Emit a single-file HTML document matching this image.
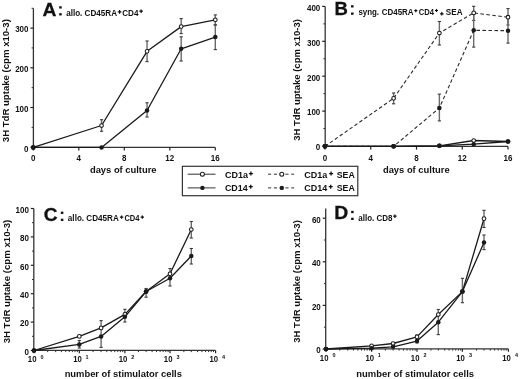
<!DOCTYPE html>
<html><head><meta charset="utf-8"><style>
html,body{margin:0;padding:0;background:#fff;}
body{width:520px;height:379px;overflow:hidden;}
svg{display:block;filter:blur(0.3px);}
text{fill:#111;}
</style></head><body>
<svg width="520" height="379" viewBox="0 0 520 379" font-family='"Liberation Sans", sans-serif'>
<rect width="520" height="379" fill="#fff"/>
<line x1="32.80" y1="147.40" x2="215.30" y2="147.40" stroke="#333" stroke-width="1.3"/>
<line x1="33.30" y1="147.40" x2="33.30" y2="150.60" stroke="#222" stroke-width="1.2"/>
<text x="33.30" y="161.30" font-size="8.6" text-anchor="middle" font-weight="bold" textLength="4.45" lengthAdjust="spacingAndGlyphs">0</text>
<line x1="78.80" y1="147.40" x2="78.80" y2="150.60" stroke="#222" stroke-width="1.2"/>
<text x="78.80" y="161.30" font-size="8.6" text-anchor="middle" font-weight="bold" textLength="4.45" lengthAdjust="spacingAndGlyphs">4</text>
<line x1="124.30" y1="147.40" x2="124.30" y2="150.60" stroke="#222" stroke-width="1.2"/>
<text x="124.30" y="161.30" font-size="8.6" text-anchor="middle" font-weight="bold" textLength="4.45" lengthAdjust="spacingAndGlyphs">8</text>
<line x1="169.80" y1="147.40" x2="169.80" y2="150.60" stroke="#222" stroke-width="1.2"/>
<text x="169.80" y="161.30" font-size="8.6" text-anchor="middle" font-weight="bold" textLength="8.90" lengthAdjust="spacingAndGlyphs">12</text>
<line x1="215.30" y1="147.40" x2="215.30" y2="150.60" stroke="#222" stroke-width="1.2"/>
<text x="215.30" y="161.30" font-size="8.6" text-anchor="middle" font-weight="bold" textLength="8.90" lengthAdjust="spacingAndGlyphs">16</text>
<line x1="33.40" y1="148.00" x2="33.40" y2="8.25" stroke="#333" stroke-width="1.3"/>
<line x1="30.40" y1="147.20" x2="33.40" y2="147.20" stroke="#222" stroke-width="1.2"/>
<line x1="30.40" y1="107.50" x2="33.40" y2="107.50" stroke="#222" stroke-width="1.2"/>
<line x1="30.40" y1="67.80" x2="33.40" y2="67.80" stroke="#222" stroke-width="1.2"/>
<line x1="30.40" y1="28.10" x2="33.40" y2="28.10" stroke="#222" stroke-width="1.2"/>
<line x1="31.60" y1="127.35" x2="33.40" y2="127.35" stroke="#333" stroke-width="1.0"/>
<line x1="31.60" y1="87.65" x2="33.40" y2="87.65" stroke="#333" stroke-width="1.0"/>
<line x1="31.60" y1="47.95" x2="33.40" y2="47.95" stroke="#333" stroke-width="1.0"/>
<line x1="31.60" y1="8.25" x2="33.40" y2="8.25" stroke="#333" stroke-width="1.0"/>
<text x="28.50" y="151.50" font-size="8.6" text-anchor="end" font-weight="bold" textLength="4.45" lengthAdjust="spacingAndGlyphs">0</text>
<text x="28.50" y="111.80" font-size="8.6" text-anchor="end" font-weight="bold" textLength="13.35" lengthAdjust="spacingAndGlyphs">100</text>
<text x="28.50" y="72.10" font-size="8.6" text-anchor="end" font-weight="bold" textLength="13.35" lengthAdjust="spacingAndGlyphs">200</text>
<text x="28.50" y="32.40" font-size="8.6" text-anchor="end" font-weight="bold" textLength="13.35" lengthAdjust="spacingAndGlyphs">300</text>
<text x="-142.19" y="0" font-size="9.4" font-weight="bold" textLength="123.02" lengthAdjust="spacingAndGlyphs" transform="translate(8.60,0) rotate(-90)">3H TdR uptake (cpm x10-3)</text>
<text x="89.92" y="173.40" font-size="9.4" font-weight="bold" textLength="66.68" lengthAdjust="spacingAndGlyphs">days of culture</text>
<text x="42.62" y="15.60" font-size="19.2" font-weight="bold" textLength="13.90" lengthAdjust="spacingAndGlyphs" stroke="#111" stroke-width="0.3">A</text>
<rect x="59.20" y="6.25" width="2.5" height="2.3" fill="#111"/>
<rect x="59.20" y="13.15" width="2.5" height="2.3" fill="#111"/>
<text x="66.16" y="16.30" font-size="8.8" font-weight="bold" textLength="50.88" lengthAdjust="spacingAndGlyphs">allo. CD45RA</text>
<path d="M117.80,11.90H121.40M119.60,10.10V13.70" stroke="#111" stroke-width="1.25" fill="none"/>
<text x="122.28" y="16.30" font-size="8.8" font-weight="bold" textLength="16.21" lengthAdjust="spacingAndGlyphs">CD4</text>
<path d="M139.30,11.20H142.90M141.10,9.40V13.00" stroke="#111" stroke-width="1.25" fill="none"/>
<line x1="101.55" y1="119.70" x2="101.55" y2="131.30" stroke="#6a6a6a" stroke-width="1.4"/>
<line x1="99.95" y1="119.70" x2="103.15" y2="119.70" stroke="#3a3a3a" stroke-width="1.1"/>
<line x1="99.95" y1="131.30" x2="103.15" y2="131.30" stroke="#3a3a3a" stroke-width="1.1"/>
<line x1="147.05" y1="41.00" x2="147.05" y2="61.60" stroke="#6a6a6a" stroke-width="1.4"/>
<line x1="145.45" y1="41.00" x2="148.65" y2="41.00" stroke="#3a3a3a" stroke-width="1.1"/>
<line x1="145.45" y1="61.60" x2="148.65" y2="61.60" stroke="#3a3a3a" stroke-width="1.1"/>
<line x1="181.18" y1="18.60" x2="181.18" y2="33.60" stroke="#6a6a6a" stroke-width="1.4"/>
<line x1="179.58" y1="18.60" x2="182.78" y2="18.60" stroke="#3a3a3a" stroke-width="1.1"/>
<line x1="179.58" y1="33.60" x2="182.78" y2="33.60" stroke="#3a3a3a" stroke-width="1.1"/>
<line x1="215.30" y1="14.90" x2="215.30" y2="24.80" stroke="#6a6a6a" stroke-width="1.4"/>
<line x1="213.70" y1="14.90" x2="216.90" y2="14.90" stroke="#3a3a3a" stroke-width="1.1"/>
<line x1="213.70" y1="24.80" x2="216.90" y2="24.80" stroke="#3a3a3a" stroke-width="1.1"/>
<line x1="147.05" y1="102.80" x2="147.05" y2="117.00" stroke="#6a6a6a" stroke-width="1.4"/>
<line x1="145.45" y1="102.80" x2="148.65" y2="102.80" stroke="#3a3a3a" stroke-width="1.1"/>
<line x1="145.45" y1="117.00" x2="148.65" y2="117.00" stroke="#3a3a3a" stroke-width="1.1"/>
<line x1="181.18" y1="36.80" x2="181.18" y2="61.00" stroke="#6a6a6a" stroke-width="1.4"/>
<line x1="179.58" y1="36.80" x2="182.78" y2="36.80" stroke="#3a3a3a" stroke-width="1.1"/>
<line x1="179.58" y1="61.00" x2="182.78" y2="61.00" stroke="#3a3a3a" stroke-width="1.1"/>
<line x1="215.30" y1="25.00" x2="215.30" y2="49.60" stroke="#6a6a6a" stroke-width="1.4"/>
<line x1="213.70" y1="25.00" x2="216.90" y2="25.00" stroke="#3a3a3a" stroke-width="1.1"/>
<line x1="213.70" y1="49.60" x2="216.90" y2="49.60" stroke="#3a3a3a" stroke-width="1.1"/>
<polyline points="33.30,147.40 101.55,125.50 147.05,51.30 181.18,26.60 215.30,19.80" fill="none" stroke="#1a1a1a" stroke-width="1.3" stroke-linejoin="round"/>
<polyline points="33.30,147.40 101.55,147.40 147.05,110.50 181.18,48.80 215.30,37.10" fill="none" stroke="#1a1a1a" stroke-width="1.3" stroke-linejoin="round"/>
<circle cx="33.30" cy="147.40" r="1.85" fill="#fff" stroke="#1a1a1a" stroke-width="1.05"/>
<circle cx="101.55" cy="125.50" r="1.85" fill="#fff" stroke="#1a1a1a" stroke-width="1.05"/>
<circle cx="147.05" cy="51.30" r="1.85" fill="#fff" stroke="#1a1a1a" stroke-width="1.05"/>
<circle cx="181.18" cy="26.60" r="1.85" fill="#fff" stroke="#1a1a1a" stroke-width="1.05"/>
<circle cx="215.30" cy="19.80" r="1.85" fill="#fff" stroke="#1a1a1a" stroke-width="1.05"/>
<circle cx="33.30" cy="147.40" r="2.25" fill="#1a1a1a"/>
<circle cx="101.55" cy="147.40" r="2.25" fill="#1a1a1a"/>
<circle cx="147.05" cy="110.50" r="2.25" fill="#1a1a1a"/>
<circle cx="181.18" cy="48.80" r="2.25" fill="#1a1a1a"/>
<circle cx="215.30" cy="37.10" r="2.25" fill="#1a1a1a"/>
<line x1="324.60" y1="146.40" x2="508.00" y2="146.40" stroke="#333" stroke-width="1.3"/>
<line x1="325.00" y1="146.40" x2="325.00" y2="149.60" stroke="#222" stroke-width="1.2"/>
<text x="325.00" y="160.90" font-size="8.6" text-anchor="middle" font-weight="bold" textLength="4.45" lengthAdjust="spacingAndGlyphs">0</text>
<line x1="370.75" y1="146.40" x2="370.75" y2="149.60" stroke="#222" stroke-width="1.2"/>
<text x="370.75" y="160.90" font-size="8.6" text-anchor="middle" font-weight="bold" textLength="4.45" lengthAdjust="spacingAndGlyphs">4</text>
<line x1="416.50" y1="146.40" x2="416.50" y2="149.60" stroke="#222" stroke-width="1.2"/>
<text x="416.50" y="160.90" font-size="8.6" text-anchor="middle" font-weight="bold" textLength="4.45" lengthAdjust="spacingAndGlyphs">8</text>
<line x1="462.25" y1="146.40" x2="462.25" y2="149.60" stroke="#222" stroke-width="1.2"/>
<text x="462.25" y="160.90" font-size="8.6" text-anchor="middle" font-weight="bold" textLength="8.90" lengthAdjust="spacingAndGlyphs">12</text>
<line x1="508.00" y1="146.40" x2="508.00" y2="149.60" stroke="#222" stroke-width="1.2"/>
<text x="508.00" y="160.90" font-size="8.6" text-anchor="middle" font-weight="bold" textLength="8.90" lengthAdjust="spacingAndGlyphs">16</text>
<line x1="325.20" y1="147.00" x2="325.20" y2="6.40" stroke="#333" stroke-width="1.3"/>
<line x1="322.20" y1="146.00" x2="325.20" y2="146.00" stroke="#222" stroke-width="1.2"/>
<line x1="322.20" y1="111.10" x2="325.20" y2="111.10" stroke="#222" stroke-width="1.2"/>
<line x1="322.20" y1="76.20" x2="325.20" y2="76.20" stroke="#222" stroke-width="1.2"/>
<line x1="322.20" y1="41.30" x2="325.20" y2="41.30" stroke="#222" stroke-width="1.2"/>
<line x1="322.20" y1="6.40" x2="325.20" y2="6.40" stroke="#222" stroke-width="1.2"/>
<line x1="323.40" y1="128.55" x2="325.20" y2="128.55" stroke="#333" stroke-width="1.0"/>
<line x1="323.40" y1="93.65" x2="325.20" y2="93.65" stroke="#333" stroke-width="1.0"/>
<line x1="323.40" y1="58.75" x2="325.20" y2="58.75" stroke="#333" stroke-width="1.0"/>
<line x1="323.40" y1="23.85" x2="325.20" y2="23.85" stroke="#333" stroke-width="1.0"/>
<text x="320.30" y="150.30" font-size="8.6" text-anchor="end" font-weight="bold" textLength="4.45" lengthAdjust="spacingAndGlyphs">0</text>
<text x="320.30" y="115.40" font-size="8.6" text-anchor="end" font-weight="bold" textLength="13.35" lengthAdjust="spacingAndGlyphs">100</text>
<text x="320.30" y="80.50" font-size="8.6" text-anchor="end" font-weight="bold" textLength="13.35" lengthAdjust="spacingAndGlyphs">200</text>
<text x="320.30" y="45.60" font-size="8.6" text-anchor="end" font-weight="bold" textLength="13.35" lengthAdjust="spacingAndGlyphs">300</text>
<text x="320.30" y="10.70" font-size="8.6" text-anchor="end" font-weight="bold" textLength="13.35" lengthAdjust="spacingAndGlyphs">400</text>
<text x="-140.89" y="0" font-size="9.4" font-weight="bold" textLength="121.82" lengthAdjust="spacingAndGlyphs" transform="translate(299.70,0) rotate(-90)">3H TdR uptake (cpm x10-3)</text>
<text x="382.93" y="173.00" font-size="9.4" font-weight="bold" textLength="66.68" lengthAdjust="spacingAndGlyphs">days of culture</text>
<text x="334.40" y="15.10" font-size="19.2" font-weight="bold" textLength="13.38" lengthAdjust="spacingAndGlyphs" stroke="#111" stroke-width="0.3">B</text>
<rect x="351.05" y="5.20" width="2.5" height="2.3" fill="#111"/>
<rect x="351.05" y="12.50" width="2.5" height="2.3" fill="#111"/>
<text x="358.38" y="15.20" font-size="8.8" font-weight="bold" textLength="20.68" lengthAdjust="spacingAndGlyphs">syng.</text>
<text x="381.78" y="15.20" font-size="8.8" font-weight="bold" textLength="31.76" lengthAdjust="spacingAndGlyphs">CD45RA</text>
<path d="M414.30,10.70H417.30M415.80,9.20V12.20" stroke="#111" stroke-width="1.2" fill="none"/>
<text x="418.80" y="15.20" font-size="8.8" font-weight="bold" textLength="15.18" lengthAdjust="spacingAndGlyphs">CD4</text>
<path d="M435.00,10.50H438.00M436.50,9.00V12.00" stroke="#111" stroke-width="1.2" fill="none"/>
<path d="M440.00,13.80H443.60M441.80,12.00V15.60" stroke="#111" stroke-width="1.2" fill="none"/>
<text x="445.86" y="15.20" font-size="8.8" font-weight="bold" textLength="16.64" lengthAdjust="spacingAndGlyphs">SEA</text>
<line x1="393.62" y1="93.00" x2="393.62" y2="103.80" stroke="#6a6a6a" stroke-width="1.4"/>
<line x1="392.02" y1="93.00" x2="395.23" y2="93.00" stroke="#3a3a3a" stroke-width="1.1"/>
<line x1="392.02" y1="103.80" x2="395.23" y2="103.80" stroke="#3a3a3a" stroke-width="1.1"/>
<line x1="439.38" y1="21.50" x2="439.38" y2="45.00" stroke="#6a6a6a" stroke-width="1.4"/>
<line x1="437.77" y1="21.50" x2="440.98" y2="21.50" stroke="#3a3a3a" stroke-width="1.1"/>
<line x1="437.77" y1="45.00" x2="440.98" y2="45.00" stroke="#3a3a3a" stroke-width="1.1"/>
<line x1="473.69" y1="6.30" x2="473.69" y2="20.40" stroke="#6a6a6a" stroke-width="1.4"/>
<line x1="472.09" y1="6.30" x2="475.29" y2="6.30" stroke="#3a3a3a" stroke-width="1.1"/>
<line x1="472.09" y1="20.40" x2="475.29" y2="20.40" stroke="#3a3a3a" stroke-width="1.1"/>
<line x1="508.00" y1="8.60" x2="508.00" y2="25.00" stroke="#6a6a6a" stroke-width="1.4"/>
<line x1="506.40" y1="8.60" x2="509.60" y2="8.60" stroke="#3a3a3a" stroke-width="1.1"/>
<line x1="506.40" y1="25.00" x2="509.60" y2="25.00" stroke="#3a3a3a" stroke-width="1.1"/>
<line x1="439.38" y1="94.10" x2="439.38" y2="120.90" stroke="#6a6a6a" stroke-width="1.4"/>
<line x1="437.77" y1="94.10" x2="440.98" y2="94.10" stroke="#3a3a3a" stroke-width="1.1"/>
<line x1="437.77" y1="120.90" x2="440.98" y2="120.90" stroke="#3a3a3a" stroke-width="1.1"/>
<line x1="473.69" y1="14.00" x2="473.69" y2="47.10" stroke="#6a6a6a" stroke-width="1.4"/>
<line x1="472.09" y1="14.00" x2="475.29" y2="14.00" stroke="#3a3a3a" stroke-width="1.1"/>
<line x1="472.09" y1="47.10" x2="475.29" y2="47.10" stroke="#3a3a3a" stroke-width="1.1"/>
<line x1="508.00" y1="18.00" x2="508.00" y2="43.10" stroke="#6a6a6a" stroke-width="1.4"/>
<line x1="506.40" y1="18.00" x2="509.60" y2="18.00" stroke="#3a3a3a" stroke-width="1.1"/>
<line x1="506.40" y1="43.10" x2="509.60" y2="43.10" stroke="#3a3a3a" stroke-width="1.1"/>
<polyline points="325.00,146.35 393.62,98.30 439.38,33.00 473.69,12.90 508.00,17.20" fill="none" stroke="#2a2a2a" stroke-width="1.1" stroke-linejoin="round" stroke-dasharray="3.6,2.4"/>
<polyline points="325.00,146.35 393.62,146.35 439.38,108.00 473.69,30.30 508.00,30.70" fill="none" stroke="#2a2a2a" stroke-width="1.1" stroke-linejoin="round" stroke-dasharray="3.6,2.4"/>
<polyline points="325.00,146.35 393.62,146.35 439.38,145.80 473.69,140.50 508.00,141.50" fill="none" stroke="#1a1a1a" stroke-width="1.3" stroke-linejoin="round"/>
<polyline points="325.00,146.35 393.62,146.35 439.38,145.80 473.69,144.20 508.00,141.50" fill="none" stroke="#1a1a1a" stroke-width="1.3" stroke-linejoin="round"/>
<circle cx="325.00" cy="146.35" r="1.85" fill="#fff" stroke="#1a1a1a" stroke-width="1.05"/>
<circle cx="393.62" cy="98.30" r="1.85" fill="#fff" stroke="#1a1a1a" stroke-width="1.05"/>
<circle cx="439.38" cy="33.00" r="1.85" fill="#fff" stroke="#1a1a1a" stroke-width="1.05"/>
<circle cx="473.69" cy="12.90" r="1.85" fill="#fff" stroke="#1a1a1a" stroke-width="1.05"/>
<circle cx="508.00" cy="17.20" r="1.85" fill="#fff" stroke="#1a1a1a" stroke-width="1.05"/>
<circle cx="325.00" cy="146.35" r="2.25" fill="#1a1a1a"/>
<circle cx="393.62" cy="146.35" r="2.25" fill="#1a1a1a"/>
<circle cx="439.38" cy="108.00" r="2.25" fill="#1a1a1a"/>
<circle cx="473.69" cy="30.30" r="2.25" fill="#1a1a1a"/>
<circle cx="508.00" cy="30.70" r="2.25" fill="#1a1a1a"/>
<circle cx="325.00" cy="146.35" r="1.85" fill="#fff" stroke="#1a1a1a" stroke-width="1.05"/>
<circle cx="393.62" cy="146.35" r="1.85" fill="#fff" stroke="#1a1a1a" stroke-width="1.05"/>
<circle cx="439.38" cy="145.80" r="1.85" fill="#fff" stroke="#1a1a1a" stroke-width="1.05"/>
<circle cx="473.69" cy="140.50" r="1.85" fill="#fff" stroke="#1a1a1a" stroke-width="1.05"/>
<circle cx="508.00" cy="141.50" r="1.85" fill="#fff" stroke="#1a1a1a" stroke-width="1.05"/>
<circle cx="325.00" cy="146.35" r="2.25" fill="#1a1a1a"/>
<circle cx="393.62" cy="146.35" r="2.25" fill="#1a1a1a"/>
<circle cx="439.38" cy="145.80" r="2.25" fill="#1a1a1a"/>
<circle cx="473.69" cy="144.20" r="2.25" fill="#1a1a1a"/>
<circle cx="508.00" cy="141.50" r="2.25" fill="#1a1a1a"/>
<rect x="182.4" y="166.3" width="175.4" height="29.4" fill="#fff" stroke="#333" stroke-width="1.2"/>
<line x1="187.70" y1="174.20" x2="215.50" y2="174.20" stroke="#333" stroke-width="1.0"/>
<circle cx="202.40" cy="174.20" r="2.0" fill="#fff" stroke="#1a1a1a" stroke-width="1.05"/>
<line x1="187.70" y1="187.90" x2="215.50" y2="187.90" stroke="#333" stroke-width="1.0"/>
<circle cx="202.40" cy="187.90" r="2.2" fill="#1a1a1a"/>
<line x1="268.00" y1="174.20" x2="294.20" y2="174.20" stroke="#333" stroke-width="1.0" stroke-dasharray="3.2,2.6"/>
<circle cx="281.80" cy="174.20" r="2.0" fill="#fff" stroke="#1a1a1a" stroke-width="1.05"/>
<line x1="268.00" y1="187.90" x2="294.20" y2="187.90" stroke="#333" stroke-width="1.0" stroke-dasharray="3.2,2.6"/>
<circle cx="281.80" cy="187.90" r="2.2" fill="#1a1a1a"/>
<text x="224.94" y="177.60" font-size="9.7" font-weight="bold" textLength="23.03" lengthAdjust="spacingAndGlyphs">CD1a</text>
<path d="M248.90,173.60H252.90M250.90,171.60V175.60" stroke="#111" stroke-width="1.3" fill="none"/>
<text x="224.94" y="190.70" font-size="9.7" font-weight="bold" textLength="22.71" lengthAdjust="spacingAndGlyphs">CD14</text>
<path d="M248.75,186.70H252.75M250.75,184.70V188.70" stroke="#111" stroke-width="1.3" fill="none"/>
<text x="304.34" y="177.60" font-size="9.7" font-weight="bold" textLength="23.03" lengthAdjust="spacingAndGlyphs">CD1a</text>
<path d="M329.10,173.60H333.10M331.10,171.60V175.60" stroke="#111" stroke-width="1.3" fill="none"/>
<text x="336.74" y="177.60" font-size="9.7" font-weight="bold" textLength="18.08" lengthAdjust="spacingAndGlyphs">SEA</text>
<text x="304.34" y="190.70" font-size="9.7" font-weight="bold" textLength="22.92" lengthAdjust="spacingAndGlyphs">CD14</text>
<path d="M328.70,186.70H332.70M330.70,184.70V188.70" stroke="#111" stroke-width="1.3" fill="none"/>
<text x="336.74" y="190.70" font-size="9.7" font-weight="bold" textLength="18.08" lengthAdjust="spacingAndGlyphs">SEA</text>
<line x1="33.20" y1="350.40" x2="215.60" y2="350.40" stroke="#333" stroke-width="1.3"/>
<line x1="34.00" y1="350.40" x2="34.00" y2="353.20" stroke="#222" stroke-width="1.2"/>
<text x="27.84" y="362.00" font-size="8.6" font-weight="bold" textLength="8.61" lengthAdjust="spacingAndGlyphs">10</text>
<text x="40.38" y="358.70" font-size="5.5" font-weight="bold" textLength="3.06" lengthAdjust="spacingAndGlyphs">0</text>
<line x1="47.67" y1="350.40" x2="47.67" y2="352.10" stroke="#333" stroke-width="1.0"/>
<line x1="55.66" y1="350.40" x2="55.66" y2="352.10" stroke="#333" stroke-width="1.0"/>
<line x1="61.33" y1="350.40" x2="61.33" y2="352.10" stroke="#333" stroke-width="1.0"/>
<line x1="65.73" y1="350.40" x2="65.73" y2="352.10" stroke="#333" stroke-width="1.0"/>
<line x1="69.33" y1="350.40" x2="69.33" y2="352.10" stroke="#333" stroke-width="1.0"/>
<line x1="72.37" y1="350.40" x2="72.37" y2="352.10" stroke="#333" stroke-width="1.0"/>
<line x1="75.00" y1="350.40" x2="75.00" y2="352.10" stroke="#333" stroke-width="1.0"/>
<line x1="77.32" y1="350.40" x2="77.32" y2="352.10" stroke="#333" stroke-width="1.0"/>
<line x1="79.30" y1="350.40" x2="79.30" y2="353.20" stroke="#222" stroke-width="1.2"/>
<text x="73.14" y="362.00" font-size="8.6" font-weight="bold" textLength="8.61" lengthAdjust="spacingAndGlyphs">10</text>
<text x="85.57" y="358.70" font-size="5.5" font-weight="bold" textLength="3.06" lengthAdjust="spacingAndGlyphs">1</text>
<line x1="93.07" y1="350.40" x2="93.07" y2="352.10" stroke="#333" stroke-width="1.0"/>
<line x1="101.10" y1="350.40" x2="101.10" y2="352.10" stroke="#333" stroke-width="1.0"/>
<line x1="106.73" y1="350.40" x2="106.73" y2="352.10" stroke="#333" stroke-width="1.0"/>
<line x1="111.13" y1="350.40" x2="111.13" y2="352.10" stroke="#333" stroke-width="1.0"/>
<line x1="114.73" y1="350.40" x2="114.73" y2="352.10" stroke="#333" stroke-width="1.0"/>
<line x1="117.77" y1="350.40" x2="117.77" y2="352.10" stroke="#333" stroke-width="1.0"/>
<line x1="120.40" y1="350.40" x2="120.40" y2="352.10" stroke="#333" stroke-width="1.0"/>
<line x1="122.72" y1="350.40" x2="122.72" y2="352.10" stroke="#333" stroke-width="1.0"/>
<line x1="124.90" y1="350.40" x2="124.90" y2="353.20" stroke="#222" stroke-width="1.2"/>
<text x="118.74" y="362.00" font-size="8.6" font-weight="bold" textLength="8.61" lengthAdjust="spacingAndGlyphs">10</text>
<text x="131.34" y="358.70" font-size="5.5" font-weight="bold" textLength="3.06" lengthAdjust="spacingAndGlyphs">2</text>
<line x1="138.47" y1="350.40" x2="138.47" y2="352.10" stroke="#333" stroke-width="1.0"/>
<line x1="146.10" y1="350.40" x2="146.10" y2="352.10" stroke="#333" stroke-width="1.0"/>
<line x1="152.13" y1="350.40" x2="152.13" y2="352.10" stroke="#333" stroke-width="1.0"/>
<line x1="156.53" y1="350.40" x2="156.53" y2="352.10" stroke="#333" stroke-width="1.0"/>
<line x1="160.13" y1="350.40" x2="160.13" y2="352.10" stroke="#333" stroke-width="1.0"/>
<line x1="163.17" y1="350.40" x2="163.17" y2="352.10" stroke="#333" stroke-width="1.0"/>
<line x1="165.80" y1="350.40" x2="165.80" y2="352.10" stroke="#333" stroke-width="1.0"/>
<line x1="168.12" y1="350.40" x2="168.12" y2="352.10" stroke="#333" stroke-width="1.0"/>
<line x1="170.00" y1="350.40" x2="170.00" y2="353.20" stroke="#222" stroke-width="1.2"/>
<text x="163.84" y="362.00" font-size="8.6" font-weight="bold" textLength="8.61" lengthAdjust="spacingAndGlyphs">10</text>
<text x="176.49" y="358.70" font-size="5.5" font-weight="bold" textLength="3.06" lengthAdjust="spacingAndGlyphs">3</text>
<line x1="183.87" y1="350.40" x2="183.87" y2="352.10" stroke="#333" stroke-width="1.0"/>
<line x1="191.30" y1="350.40" x2="191.30" y2="352.10" stroke="#333" stroke-width="1.0"/>
<line x1="197.53" y1="350.40" x2="197.53" y2="352.10" stroke="#333" stroke-width="1.0"/>
<line x1="201.93" y1="350.40" x2="201.93" y2="352.10" stroke="#333" stroke-width="1.0"/>
<line x1="205.53" y1="350.40" x2="205.53" y2="352.10" stroke="#333" stroke-width="1.0"/>
<line x1="208.57" y1="350.40" x2="208.57" y2="352.10" stroke="#333" stroke-width="1.0"/>
<line x1="211.20" y1="350.40" x2="211.20" y2="352.10" stroke="#333" stroke-width="1.0"/>
<line x1="213.52" y1="350.40" x2="213.52" y2="352.10" stroke="#333" stroke-width="1.0"/>
<line x1="215.60" y1="350.40" x2="215.60" y2="353.20" stroke="#222" stroke-width="1.2"/>
<text x="209.44" y="362.00" font-size="8.6" font-weight="bold" textLength="8.61" lengthAdjust="spacingAndGlyphs">10</text>
<text x="222.09" y="358.70" font-size="5.5" font-weight="bold" textLength="3.06" lengthAdjust="spacingAndGlyphs">4</text>
<line x1="33.80" y1="351.00" x2="33.80" y2="208.50" stroke="#333" stroke-width="1.3"/>
<line x1="30.80" y1="350.50" x2="33.80" y2="350.50" stroke="#222" stroke-width="1.2"/>
<line x1="30.80" y1="322.10" x2="33.80" y2="322.10" stroke="#222" stroke-width="1.2"/>
<line x1="30.80" y1="293.70" x2="33.80" y2="293.70" stroke="#222" stroke-width="1.2"/>
<line x1="30.80" y1="265.30" x2="33.80" y2="265.30" stroke="#222" stroke-width="1.2"/>
<line x1="30.80" y1="236.90" x2="33.80" y2="236.90" stroke="#222" stroke-width="1.2"/>
<line x1="30.80" y1="208.50" x2="33.80" y2="208.50" stroke="#222" stroke-width="1.2"/>
<line x1="32.00" y1="336.30" x2="33.80" y2="336.30" stroke="#333" stroke-width="1.0"/>
<line x1="32.00" y1="307.90" x2="33.80" y2="307.90" stroke="#333" stroke-width="1.0"/>
<line x1="32.00" y1="279.50" x2="33.80" y2="279.50" stroke="#333" stroke-width="1.0"/>
<line x1="32.00" y1="251.10" x2="33.80" y2="251.10" stroke="#333" stroke-width="1.0"/>
<line x1="32.00" y1="222.70" x2="33.80" y2="222.70" stroke="#333" stroke-width="1.0"/>
<text x="28.90" y="354.80" font-size="8.6" text-anchor="end" font-weight="bold" textLength="4.45" lengthAdjust="spacingAndGlyphs">0</text>
<text x="28.90" y="326.40" font-size="8.6" text-anchor="end" font-weight="bold" textLength="8.90" lengthAdjust="spacingAndGlyphs">20</text>
<text x="28.90" y="298.00" font-size="8.6" text-anchor="end" font-weight="bold" textLength="8.90" lengthAdjust="spacingAndGlyphs">40</text>
<text x="28.90" y="269.60" font-size="8.6" text-anchor="end" font-weight="bold" textLength="8.90" lengthAdjust="spacingAndGlyphs">60</text>
<text x="28.90" y="241.20" font-size="8.6" text-anchor="end" font-weight="bold" textLength="8.90" lengthAdjust="spacingAndGlyphs">80</text>
<text x="28.90" y="212.80" font-size="8.6" text-anchor="end" font-weight="bold" textLength="13.35" lengthAdjust="spacingAndGlyphs">100</text>
<line x1="79.30" y1="340.50" x2="79.30" y2="348.00" stroke="#6a6a6a" stroke-width="1.4"/>
<line x1="77.70" y1="340.50" x2="80.90" y2="340.50" stroke="#3a3a3a" stroke-width="1.1"/>
<line x1="77.70" y1="348.00" x2="80.90" y2="348.00" stroke="#3a3a3a" stroke-width="1.1"/>
<line x1="101.10" y1="320.60" x2="101.10" y2="347.40" stroke="#6a6a6a" stroke-width="1.4"/>
<line x1="99.50" y1="320.60" x2="102.70" y2="320.60" stroke="#3a3a3a" stroke-width="1.1"/>
<line x1="99.50" y1="347.40" x2="102.70" y2="347.40" stroke="#3a3a3a" stroke-width="1.1"/>
<line x1="124.90" y1="309.30" x2="124.90" y2="322.00" stroke="#6a6a6a" stroke-width="1.4"/>
<line x1="123.30" y1="309.30" x2="126.50" y2="309.30" stroke="#3a3a3a" stroke-width="1.1"/>
<line x1="123.30" y1="322.00" x2="126.50" y2="322.00" stroke="#3a3a3a" stroke-width="1.1"/>
<line x1="146.10" y1="288.50" x2="146.10" y2="297.20" stroke="#6a6a6a" stroke-width="1.4"/>
<line x1="144.50" y1="288.50" x2="147.70" y2="288.50" stroke="#3a3a3a" stroke-width="1.1"/>
<line x1="144.50" y1="297.20" x2="147.70" y2="297.20" stroke="#3a3a3a" stroke-width="1.1"/>
<line x1="170.00" y1="268.50" x2="170.00" y2="286.00" stroke="#6a6a6a" stroke-width="1.4"/>
<line x1="168.40" y1="268.50" x2="171.60" y2="268.50" stroke="#3a3a3a" stroke-width="1.1"/>
<line x1="168.40" y1="286.00" x2="171.60" y2="286.00" stroke="#3a3a3a" stroke-width="1.1"/>
<line x1="191.30" y1="221.50" x2="191.30" y2="238.00" stroke="#6a6a6a" stroke-width="1.4"/>
<line x1="189.70" y1="221.50" x2="192.90" y2="221.50" stroke="#3a3a3a" stroke-width="1.1"/>
<line x1="189.70" y1="238.00" x2="192.90" y2="238.00" stroke="#3a3a3a" stroke-width="1.1"/>
<line x1="191.30" y1="248.50" x2="191.30" y2="264.00" stroke="#6a6a6a" stroke-width="1.4"/>
<line x1="189.70" y1="248.50" x2="192.90" y2="248.50" stroke="#3a3a3a" stroke-width="1.1"/>
<line x1="189.70" y1="264.00" x2="192.90" y2="264.00" stroke="#3a3a3a" stroke-width="1.1"/>
<polyline points="34.00,350.50 79.30,336.40 101.10,327.90 124.90,314.40 146.10,291.50 170.00,273.80 191.30,229.50" fill="none" stroke="#1a1a1a" stroke-width="1.3" stroke-linejoin="round"/>
<polyline points="34.00,350.50 79.30,344.40 101.10,336.40 124.90,316.80 146.10,291.50 170.00,278.30 191.30,256.00" fill="none" stroke="#1a1a1a" stroke-width="1.3" stroke-linejoin="round"/>
<circle cx="34.00" cy="350.50" r="1.85" fill="#fff" stroke="#1a1a1a" stroke-width="1.05"/>
<circle cx="79.30" cy="336.40" r="1.85" fill="#fff" stroke="#1a1a1a" stroke-width="1.05"/>
<circle cx="101.10" cy="327.90" r="1.85" fill="#fff" stroke="#1a1a1a" stroke-width="1.05"/>
<circle cx="124.90" cy="314.40" r="1.85" fill="#fff" stroke="#1a1a1a" stroke-width="1.05"/>
<circle cx="146.10" cy="291.50" r="1.85" fill="#fff" stroke="#1a1a1a" stroke-width="1.05"/>
<circle cx="170.00" cy="273.80" r="1.85" fill="#fff" stroke="#1a1a1a" stroke-width="1.05"/>
<circle cx="191.30" cy="229.50" r="1.85" fill="#fff" stroke="#1a1a1a" stroke-width="1.05"/>
<circle cx="34.00" cy="350.50" r="2.25" fill="#1a1a1a"/>
<circle cx="79.30" cy="344.40" r="2.25" fill="#1a1a1a"/>
<circle cx="101.10" cy="336.40" r="2.25" fill="#1a1a1a"/>
<circle cx="124.90" cy="316.80" r="2.25" fill="#1a1a1a"/>
<circle cx="146.10" cy="291.50" r="2.25" fill="#1a1a1a"/>
<circle cx="170.00" cy="278.30" r="2.25" fill="#1a1a1a"/>
<circle cx="191.30" cy="256.00" r="2.25" fill="#1a1a1a"/>
<text x="-343.39" y="0" font-size="9.4" font-weight="bold" textLength="123.63" lengthAdjust="spacingAndGlyphs" transform="translate(9.80,0) rotate(-90)">3H TdR uptake (cpm x10-3)</text>
<text x="64.64" y="376.80" font-size="9.4" font-weight="bold" textLength="117.25" lengthAdjust="spacingAndGlyphs">number of stimulator cells</text>
<text x="43.84" y="220.80" font-size="19.2" font-weight="bold" textLength="13.78" lengthAdjust="spacingAndGlyphs" stroke="#111" stroke-width="0.3">C</text>
<rect x="60.85" y="211.65" width="2.5" height="2.3" fill="#111"/>
<rect x="60.85" y="218.70" width="2.5" height="2.3" fill="#111"/>
<text x="67.86" y="221.40" font-size="8.4" font-weight="bold" textLength="50.98" lengthAdjust="spacingAndGlyphs">allo. CD45RA</text>
<path d="M119.90,217.10H123.30M121.60,215.40V218.80" stroke="#111" stroke-width="1.2" fill="none"/>
<text x="124.40" y="221.40" font-size="8.4" font-weight="bold" textLength="15.08" lengthAdjust="spacingAndGlyphs">CD4</text>
<path d="M140.60,217.10H144.00M142.30,215.40V218.80" stroke="#111" stroke-width="1.2" fill="none"/>
<line x1="325.10" y1="348.90" x2="508.40" y2="348.90" stroke="#333" stroke-width="1.3"/>
<line x1="326.00" y1="348.90" x2="326.00" y2="351.70" stroke="#222" stroke-width="1.2"/>
<text x="319.84" y="360.50" font-size="8.6" font-weight="bold" textLength="8.61" lengthAdjust="spacingAndGlyphs">10</text>
<text x="332.38" y="357.20" font-size="5.5" font-weight="bold" textLength="3.06" lengthAdjust="spacingAndGlyphs">0</text>
<line x1="339.73" y1="348.90" x2="339.73" y2="350.60" stroke="#333" stroke-width="1.0"/>
<line x1="347.76" y1="348.90" x2="347.76" y2="350.60" stroke="#333" stroke-width="1.0"/>
<line x1="353.45" y1="348.90" x2="353.45" y2="350.60" stroke="#333" stroke-width="1.0"/>
<line x1="357.87" y1="348.90" x2="357.87" y2="350.60" stroke="#333" stroke-width="1.0"/>
<line x1="361.48" y1="348.90" x2="361.48" y2="350.60" stroke="#333" stroke-width="1.0"/>
<line x1="364.54" y1="348.90" x2="364.54" y2="350.60" stroke="#333" stroke-width="1.0"/>
<line x1="367.18" y1="348.90" x2="367.18" y2="350.60" stroke="#333" stroke-width="1.0"/>
<line x1="369.51" y1="348.90" x2="369.51" y2="350.60" stroke="#333" stroke-width="1.0"/>
<line x1="371.60" y1="348.90" x2="371.60" y2="351.70" stroke="#222" stroke-width="1.2"/>
<text x="365.44" y="360.50" font-size="8.6" font-weight="bold" textLength="8.61" lengthAdjust="spacingAndGlyphs">10</text>
<text x="377.87" y="357.20" font-size="5.5" font-weight="bold" textLength="3.06" lengthAdjust="spacingAndGlyphs">1</text>
<line x1="385.33" y1="348.90" x2="385.33" y2="350.60" stroke="#333" stroke-width="1.0"/>
<line x1="393.10" y1="348.90" x2="393.10" y2="350.60" stroke="#333" stroke-width="1.0"/>
<line x1="399.05" y1="348.90" x2="399.05" y2="350.60" stroke="#333" stroke-width="1.0"/>
<line x1="403.47" y1="348.90" x2="403.47" y2="350.60" stroke="#333" stroke-width="1.0"/>
<line x1="407.08" y1="348.90" x2="407.08" y2="350.60" stroke="#333" stroke-width="1.0"/>
<line x1="410.14" y1="348.90" x2="410.14" y2="350.60" stroke="#333" stroke-width="1.0"/>
<line x1="412.78" y1="348.90" x2="412.78" y2="350.60" stroke="#333" stroke-width="1.0"/>
<line x1="415.11" y1="348.90" x2="415.11" y2="350.60" stroke="#333" stroke-width="1.0"/>
<line x1="417.00" y1="348.90" x2="417.00" y2="351.70" stroke="#222" stroke-width="1.2"/>
<text x="410.84" y="360.50" font-size="8.6" font-weight="bold" textLength="8.61" lengthAdjust="spacingAndGlyphs">10</text>
<text x="423.44" y="357.20" font-size="5.5" font-weight="bold" textLength="3.06" lengthAdjust="spacingAndGlyphs">2</text>
<line x1="430.93" y1="348.90" x2="430.93" y2="350.60" stroke="#333" stroke-width="1.0"/>
<line x1="438.30" y1="348.90" x2="438.30" y2="350.60" stroke="#333" stroke-width="1.0"/>
<line x1="444.65" y1="348.90" x2="444.65" y2="350.60" stroke="#333" stroke-width="1.0"/>
<line x1="449.07" y1="348.90" x2="449.07" y2="350.60" stroke="#333" stroke-width="1.0"/>
<line x1="452.68" y1="348.90" x2="452.68" y2="350.60" stroke="#333" stroke-width="1.0"/>
<line x1="455.74" y1="348.90" x2="455.74" y2="350.60" stroke="#333" stroke-width="1.0"/>
<line x1="458.38" y1="348.90" x2="458.38" y2="350.60" stroke="#333" stroke-width="1.0"/>
<line x1="460.71" y1="348.90" x2="460.71" y2="350.60" stroke="#333" stroke-width="1.0"/>
<line x1="462.40" y1="348.90" x2="462.40" y2="351.70" stroke="#222" stroke-width="1.2"/>
<text x="456.24" y="360.50" font-size="8.6" font-weight="bold" textLength="8.61" lengthAdjust="spacingAndGlyphs">10</text>
<text x="468.89" y="357.20" font-size="5.5" font-weight="bold" textLength="3.06" lengthAdjust="spacingAndGlyphs">3</text>
<line x1="476.53" y1="348.90" x2="476.53" y2="350.60" stroke="#333" stroke-width="1.0"/>
<line x1="484.00" y1="348.90" x2="484.00" y2="350.60" stroke="#333" stroke-width="1.0"/>
<line x1="490.25" y1="348.90" x2="490.25" y2="350.60" stroke="#333" stroke-width="1.0"/>
<line x1="494.67" y1="348.90" x2="494.67" y2="350.60" stroke="#333" stroke-width="1.0"/>
<line x1="498.28" y1="348.90" x2="498.28" y2="350.60" stroke="#333" stroke-width="1.0"/>
<line x1="501.34" y1="348.90" x2="501.34" y2="350.60" stroke="#333" stroke-width="1.0"/>
<line x1="503.98" y1="348.90" x2="503.98" y2="350.60" stroke="#333" stroke-width="1.0"/>
<line x1="506.31" y1="348.90" x2="506.31" y2="350.60" stroke="#333" stroke-width="1.0"/>
<line x1="508.40" y1="348.90" x2="508.40" y2="351.70" stroke="#222" stroke-width="1.2"/>
<text x="502.24" y="360.50" font-size="8.6" font-weight="bold" textLength="8.61" lengthAdjust="spacingAndGlyphs">10</text>
<text x="514.89" y="357.20" font-size="5.5" font-weight="bold" textLength="3.06" lengthAdjust="spacingAndGlyphs">4</text>
<line x1="325.70" y1="349.50" x2="325.70" y2="208.39" stroke="#333" stroke-width="1.3"/>
<line x1="322.70" y1="349.00" x2="325.70" y2="349.00" stroke="#222" stroke-width="1.2"/>
<line x1="322.70" y1="305.40" x2="325.70" y2="305.40" stroke="#222" stroke-width="1.2"/>
<line x1="322.70" y1="261.80" x2="325.70" y2="261.80" stroke="#222" stroke-width="1.2"/>
<line x1="322.70" y1="218.20" x2="325.70" y2="218.20" stroke="#222" stroke-width="1.2"/>
<line x1="323.90" y1="327.20" x2="325.70" y2="327.20" stroke="#333" stroke-width="1.0"/>
<line x1="323.90" y1="283.60" x2="325.70" y2="283.60" stroke="#333" stroke-width="1.0"/>
<line x1="323.90" y1="240.00" x2="325.70" y2="240.00" stroke="#333" stroke-width="1.0"/>
<text x="320.80" y="353.30" font-size="8.6" text-anchor="end" font-weight="bold" textLength="4.45" lengthAdjust="spacingAndGlyphs">0</text>
<text x="320.80" y="309.70" font-size="8.6" text-anchor="end" font-weight="bold" textLength="8.90" lengthAdjust="spacingAndGlyphs">20</text>
<text x="320.80" y="266.10" font-size="8.6" text-anchor="end" font-weight="bold" textLength="8.90" lengthAdjust="spacingAndGlyphs">40</text>
<text x="320.80" y="222.50" font-size="8.6" text-anchor="end" font-weight="bold" textLength="8.90" lengthAdjust="spacingAndGlyphs">60</text>
<line x1="417.00" y1="335.00" x2="417.00" y2="343.00" stroke="#6a6a6a" stroke-width="1.4"/>
<line x1="415.40" y1="335.00" x2="418.60" y2="335.00" stroke="#3a3a3a" stroke-width="1.1"/>
<line x1="415.40" y1="343.00" x2="418.60" y2="343.00" stroke="#3a3a3a" stroke-width="1.1"/>
<line x1="438.30" y1="309.50" x2="438.30" y2="334.60" stroke="#6a6a6a" stroke-width="1.4"/>
<line x1="436.70" y1="309.50" x2="439.90" y2="309.50" stroke="#3a3a3a" stroke-width="1.1"/>
<line x1="436.70" y1="334.60" x2="439.90" y2="334.60" stroke="#3a3a3a" stroke-width="1.1"/>
<line x1="462.40" y1="278.30" x2="462.40" y2="302.70" stroke="#6a6a6a" stroke-width="1.4"/>
<line x1="460.80" y1="278.30" x2="464.00" y2="278.30" stroke="#3a3a3a" stroke-width="1.1"/>
<line x1="460.80" y1="302.70" x2="464.00" y2="302.70" stroke="#3a3a3a" stroke-width="1.1"/>
<line x1="484.00" y1="210.30" x2="484.00" y2="227.50" stroke="#6a6a6a" stroke-width="1.4"/>
<line x1="482.40" y1="210.30" x2="485.60" y2="210.30" stroke="#3a3a3a" stroke-width="1.1"/>
<line x1="482.40" y1="227.50" x2="485.60" y2="227.50" stroke="#3a3a3a" stroke-width="1.1"/>
<line x1="484.00" y1="235.00" x2="484.00" y2="249.60" stroke="#6a6a6a" stroke-width="1.4"/>
<line x1="482.40" y1="235.00" x2="485.60" y2="235.00" stroke="#3a3a3a" stroke-width="1.1"/>
<line x1="482.40" y1="249.60" x2="485.60" y2="249.60" stroke="#3a3a3a" stroke-width="1.1"/>
<polyline points="326.00,349.00 371.60,345.90 393.10,343.50 417.00,336.90 438.30,314.50 462.40,291.60 484.00,218.70" fill="none" stroke="#1a1a1a" stroke-width="1.3" stroke-linejoin="round"/>
<polyline points="326.00,349.00 371.60,348.20 393.10,346.80 417.00,341.10 438.30,322.20 462.40,291.60 484.00,242.50" fill="none" stroke="#1a1a1a" stroke-width="1.3" stroke-linejoin="round"/>
<circle cx="326.00" cy="349.00" r="1.85" fill="#fff" stroke="#1a1a1a" stroke-width="1.05"/>
<circle cx="371.60" cy="345.90" r="1.85" fill="#fff" stroke="#1a1a1a" stroke-width="1.05"/>
<circle cx="393.10" cy="343.50" r="1.85" fill="#fff" stroke="#1a1a1a" stroke-width="1.05"/>
<circle cx="417.00" cy="336.90" r="1.85" fill="#fff" stroke="#1a1a1a" stroke-width="1.05"/>
<circle cx="438.30" cy="314.50" r="1.85" fill="#fff" stroke="#1a1a1a" stroke-width="1.05"/>
<circle cx="462.40" cy="291.60" r="1.85" fill="#fff" stroke="#1a1a1a" stroke-width="1.05"/>
<circle cx="484.00" cy="218.70" r="1.85" fill="#fff" stroke="#1a1a1a" stroke-width="1.05"/>
<circle cx="326.00" cy="349.00" r="2.25" fill="#1a1a1a"/>
<circle cx="371.60" cy="348.20" r="2.25" fill="#1a1a1a"/>
<circle cx="393.10" cy="346.80" r="2.25" fill="#1a1a1a"/>
<circle cx="417.00" cy="341.10" r="2.25" fill="#1a1a1a"/>
<circle cx="438.30" cy="322.20" r="2.25" fill="#1a1a1a"/>
<circle cx="462.40" cy="291.60" r="2.25" fill="#1a1a1a"/>
<circle cx="484.00" cy="242.50" r="2.25" fill="#1a1a1a"/>
<text x="-342.79" y="0" font-size="9.4" font-weight="bold" textLength="122.62" lengthAdjust="spacingAndGlyphs" transform="translate(299.90,0) rotate(-90)">3H TdR uptake (cpm x10-3)</text>
<text x="356.34" y="376.90" font-size="9.4" font-weight="bold" textLength="117.75" lengthAdjust="spacingAndGlyphs">number of stimulator cells</text>
<text x="334.15" y="219.40" font-size="19.2" font-weight="bold" textLength="13.97" lengthAdjust="spacingAndGlyphs" stroke="#111" stroke-width="0.3">D</text>
<rect x="351.15" y="210.85" width="2.5" height="2.3" fill="#111"/>
<rect x="351.15" y="217.70" width="2.5" height="2.3" fill="#111"/>
<text x="358.26" y="220.60" font-size="8.8" font-weight="bold" textLength="34.27" lengthAdjust="spacingAndGlyphs">allo. CD8</text>
<path d="M393.20,216.20H396.60M394.90,214.50V217.90" stroke="#111" stroke-width="1.2" fill="none"/>
</svg>
</body></html>
